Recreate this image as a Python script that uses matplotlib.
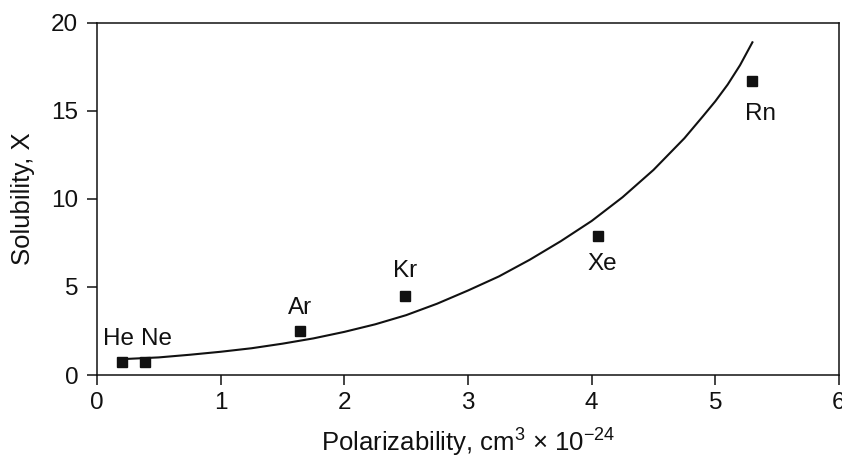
import matplotlib.pyplot as plt

plt.rcParams['font.family'] = ['Liberation Sans', 'DejaVu Sans']
plt.rcParams['mathtext.fontset'] = 'custom'
plt.rcParams['mathtext.rm'] = 'Liberation Sans'
plt.rcParams['mathtext.it'] = 'Liberation Sans:italic'

# noble gases: polarizability vs solubility
gases = ['He', 'Ne', 'Ar', 'Kr', 'Xe', 'Rn']
polar = [0.2, 0.39, 1.64, 2.49, 4.05, 5.30]
solub = [0.76, 0.76, 2.5, 4.5, 7.9, 16.7]

# fitted curve
fit_x = [0.2, 0.5, 0.75, 1.0, 1.25, 1.5, 1.75, 2.0, 2.25, 2.5, 2.75, 3.0,
         3.25, 3.5, 3.75, 4.0, 4.25, 4.5, 4.75, 4.9, 5.0, 5.1, 5.2, 5.3]
fit_y = [0.9, 1.0, 1.15, 1.32, 1.52, 1.78, 2.08, 2.45, 2.88, 3.4, 4.05, 4.8,
         5.6, 6.55, 7.6, 8.75, 10.1, 11.65, 13.45, 14.7, 15.55, 16.5, 17.6, 18.9]

# label offsets in points
offs = [(-2, 16.5), (8, 16.5), (0, 16.5), (0, 18), (3, -20), (6, -23.5)]

fig = plt.figure(figsize=(8.42, 4.59), dpi=100)
ax = fig.add_axes([0.1152, 0.183, 0.8812, 0.767])

ax.plot(fit_x, fit_y, color='#111111', lw=1.5)
ax.plot(polar, solub, 's', color='#111111', ms=7.2, ls='none')
for g, x, y, o in zip(gases, polar, solub, offs):
    ax.annotate(g, (x, y), xytext=o, textcoords='offset points',
                ha='center', va='center', fontsize=17.5, color='#111111')

ax.set_xlim(0, 6)
ax.set_ylim(0, 20)
ax.set_xticks(range(0, 7))
ax.set_yticks([0, 5, 10, 15, 20])
ax.tick_params(direction='out', length=7, width=1.1, labelsize=17.5,
               colors='#111111')
ax.tick_params(axis='x', pad=5)
ax.tick_params(axis='y', pad=6.5)
for s in ax.spines.values():
    s.set_linewidth(1.1)
    s.set_color('#111111')

ax.set_xlabel(r'Polarizability, cm$^3$ $\times$ 10$^{-24}$', fontsize=18.5, color='#111111')
ax.set_ylabel('Solubility, X', fontsize=18.5, color='#111111')
ax.xaxis.set_label_coords(0.5, -0.148)
ax.yaxis.set_label_coords(-0.083, 0.5)

plt.savefig('out.png', dpi=100)
